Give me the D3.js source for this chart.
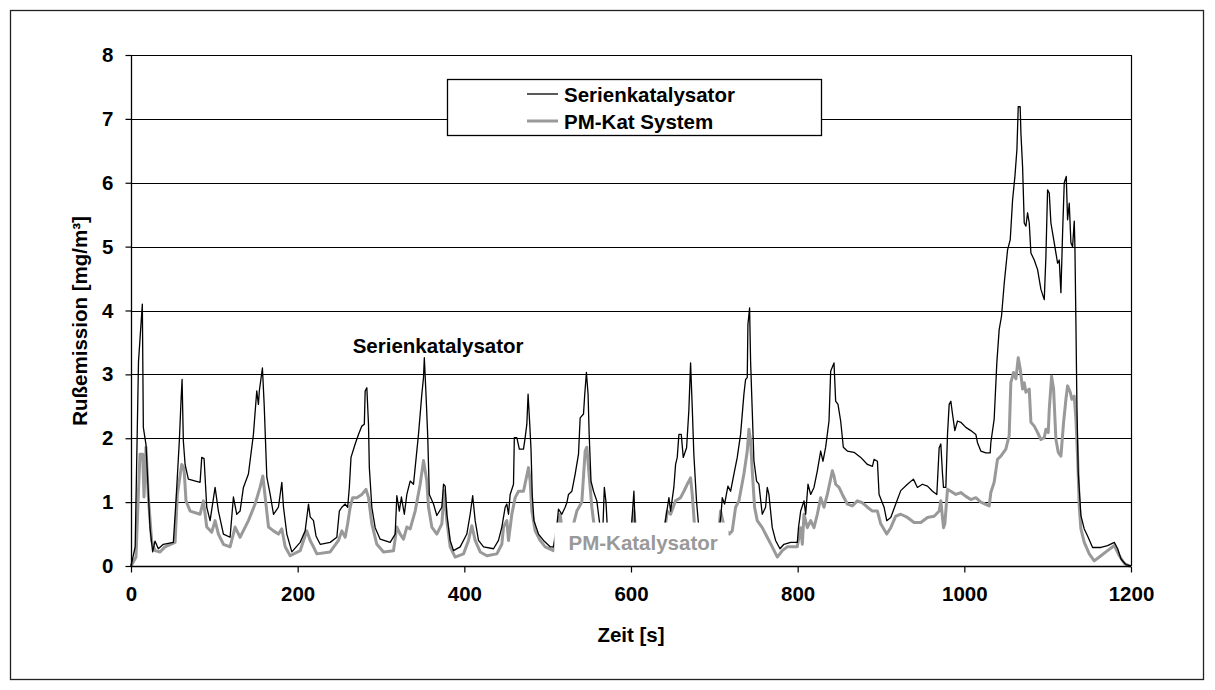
<!DOCTYPE html>
<html><head><meta charset="utf-8">
<script src="https://cdn.jsdelivr.net/npm/d3@7"></script>
<style>
html,body{margin:0;padding:0;background:#fff;}
text{font-family:"Liberation Sans",Arial,sans-serif;font-weight:bold;}
</style></head>
<body><svg id="chart" width="1215" height="690"></svg>
<script>
// ---- data ----
const seriesNames = ["Serienkatalysator", "PM-Kat System"];
const xTicks = [0, 200, 400, 600, 800, 1000, 1200];
const yTicks = [0, 1, 2, 3, 4, 5, 6, 7, 8];
const xTitle = "Zeit [s]";
const yTitle = "Rußemission [mg/m³]";
const labelSerie = "Serienkatalysator";
const labelPM = "PM-Katalysator";

const serTime = [0,5,9,13.6,14.8,18,22.8,26,28.8,32.8,38.8,50.8,54,58,60,61.3,62.8,64.9,68.8,82.9,84.9,87.7,90.9,94.9,100.9,104.9,110.9,118.9,122.9,126.9,130.9,134.9,140.9,146.9,150.9,152.9,154,157.7,159.8,163,167,171,176.9,181,183,187,193,203,209,213,215,219,222,227,239,247,250,253,257,260,262,264,269,273,277,280,281,283,285,286,289,293,299,311,317,319,322,324.5,328,331,335,339,341,345,349,351,352,354,356,358,363,367,373,375,377,379,383,387,395,403,407,410,413,417,423,435,441,445,449,451,453,455,459,460,463,466,471,473,475,476.5,478.5,480,481.5,483.5,489,495,503,507,510,513,517,521,523,525,529,533,537,539,543,544.5,546.5,548.5,549.8,552,555,559,563,566,568,570,572,585,598,601,603.5,605,620,636,640,645.5,647.5,651.4,653.5,655.5,657.5,660.3,662.7,666.7,669.4,671.5,673.5,675.4,678.6,682,695,705,708,709.5,712.3,716.3,719.5,723.5,727.5,731.5,735.5,737.5,739.5,740.3,742.3,743.5,745.5,747.5,750.7,753.5,757.5,761.5,763.5,765.5,769.5,773.5,778.8,783.5,791.6,799.6,801,803.6,807.6,809.6,812.4,815.6,819.6,823.6,827.6,830.4,833.6,837.6,839.6,843.6,845.6,848.4,851.6,854.8,859.6,867.6,875.7,883.7,889.7,891.7,895.7,897.7,903.7,906.9,911.7,917.7,923.7,931.7,938.9,943.7,949.7,955.8,961.8,967,969.8,971.8,973.8,975,977.8,979.8,981.8,983.8,985.8,988.6,991.8,995.8,1001.8,1007.8,1013.8,1015.8,1019.8,1025.8,1031,1031.8,1035.8,1039,1041.8,1044.6,1047.9,1051.9,1055.1,1057.9,1060.7,1063.1,1064.7,1067,1067.9,1069.9,1071.9,1073.9,1075.9,1077.9,1079.9,1083.9,1087.9,1091.9,1095.9,1097.9,1099.9,1101.9,1103.9,1107.9,1111.9,1113.9,1115.9,1117.9,1119.9,1122.3,1123.9,1125.9,1127.9,1129.9,1131.9,1132.7,1133.9,1135.1,1136.7,1139.9,1143.9,1147.9,1153.9,1163.9,1171.9,1180,1184,1188,1194,1200];
const serValues = [0,0.3,3.2,4.1,2.17,1.9,0.6,0.22,0.39,0.27,0.34,0.37,1.02,1.96,2.58,2.92,1.96,1.59,1.36,1.31,1.7,1.68,0.92,0.71,1.23,0.86,0.5,0.45,1.08,0.81,0.86,1.23,1.44,2.06,2.74,2.53,2.74,3.1,2.53,1.39,1.12,0.81,0.92,1.31,0.92,0.5,0.22,0.37,0.55,0.97,0.77,0.71,0.47,0.34,0.37,0.45,0.86,0.92,0.97,0.92,1.23,1.7,1.91,2.06,2.19,2.22,2.74,2.79,2.22,1.54,0.92,0.6,0.42,0.37,0.5,1.1,0.86,1.08,0.81,1.12,1.33,1.28,1.54,2.06,2.69,2.95,3.26,2.69,2.06,1.12,0.97,0.79,0.92,1.28,1.25,0.81,0.4,0.24,0.3,0.5,0.81,1.1,0.71,0.4,0.3,0.27,0.4,0.61,0.92,0.97,0.81,1.12,1.28,2.01,2.01,1.83,1.83,2.01,2.22,2.69,2.22,1.83,1.12,0.71,0.5,0.4,0.3,0.3,0.5,0.89,0.81,0.92,0.99,1.12,1.17,1.44,1.75,2.32,2.38,2.69,3.03,2.69,2.06,1.33,1.17,1.02,0.6,0.5,1.23,1.0,0.5,0.3,0.4,0.7,1.17,0.6,0.3,0.4,0.6,1.07,0.86,1.23,1.59,1.7,2.06,2.06,1.7,1.85,2.43,3.18,2.48,1.75,1.02,0.5,0.3,0.5,0.8,1.07,0.97,1.25,1.17,1.44,1.7,2.06,2.69,2.92,2.95,3.78,4.04,3.21,2.43,1.65,1.33,1.28,0.81,0.92,1.23,1.12,0.6,0.4,0.27,0.34,0.37,0.37,0.6,0.86,1.02,0.81,1.28,1.12,1.23,1.49,1.8,1.64,1.86,2.27,3.05,3.18,2.58,2.53,2.27,1.86,1.8,1.78,1.7,1.59,1.56,1.67,1.64,1.12,0.92,0.71,0.76,0.97,1.18,1.28,1.36,1.23,1.28,1.25,1.17,1.12,1.85,1.91,1.44,1.23,1.23,2.06,2.53,2.58,2.38,2.12,2.27,2.25,2.17,2.12,2.06,1.93,1.8,1.77,1.77,1.93,2.3,3.18,3.7,3.91,4.43,4.95,5.11,5.73,6.1,6.52,7.19,7.19,6.78,6.25,5.37,5.32,5.53,5.37,4.9,4.79,4.64,4.33,4.17,4.85,5.89,5.84,5.37,5.06,4.74,4.79,4.28,5.21,6.0,6.1,5.42,5.68,5.06,5.0,5.4,5.0,3.81,2.5,1.46,0.79,0.58,0.47,0.29,0.29,0.32,0.37,0.27,0.11,0.02,0];

const pmTime = [0,6,8.8,10.8,14,15.6,18,20.8,24.8,28.8,34.8,40.8,52.9,55.6,60.9,63.6,66,70.9,82.9,86.9,90.9,96.9,100.9,104.9,110.9,118.9,124.9,130.9,140.9,148.9,154.9,158.2,161,165,171,176.9,181,185,191,203,211,215,219,223,239,249,253,257,260,263,266,271,277,282,285,289,295,303,315,319,323,327,331,335,341,347,351,355,357,361,367,373,376,379,383,389,399,405,409,413,419,427,439,445,447,451,453,457,461,465,471,477,479,481,485,491,497,507,510,515,518,528,535,541,545,547,549,553,557,580,600,603.5,606,625,640,643.5,647.5,653.5,659.5,663.5,667.5,671.5,673.5,677,695,705,707.5,712,718,721.5,725.5,729.5,735.5,739.5,741.5,743.5,745.5,748.3,751.5,757.5,763.5,769.5,775.6,781.5,787.5,799.5,803.6,805.6,807.6,811.6,815.6,819.6,823.6,827.6,831.6,835.6,841.6,843.6,845.6,849.6,853.6,859.6,865.6,871.6,877.7,883.7,889.7,895.7,899.7,906.9,911.7,917.7,923.7,931.7,939.7,947.7,955.8,963.8,969.8,971.8,975,976.6,979.8,983.8,989.8,995.8,1001.8,1007.8,1013.8,1019.8,1029.8,1031.8,1035.8,1039.8,1043.8,1049.8,1053.8,1055.8,1059.1,1061.9,1064.7,1067.1,1069.9,1071.9,1073.9,1077.9,1079.9,1083.9,1087.9,1091.9,1095.9,1097.9,1100.7,1101.9,1104.7,1107.1,1109.9,1112.7,1115.9,1119.1,1121.9,1123.9,1127.1,1129.1,1131.9,1133.9,1135.9,1137.9,1139.9,1143.9,1149.9,1155.9,1163.9,1171.9,1180,1186,1192,1198,1200];
const pmValues = [0,0.14,1.12,1.75,1.75,1.08,1.86,1.08,0.39,0.24,0.22,0.3,0.37,1.12,1.59,1.53,1.02,0.86,0.81,1.02,0.61,0.53,0.71,0.5,0.34,0.3,0.61,0.45,0.71,0.97,1.23,1.41,1.08,0.61,0.55,0.5,0.58,0.3,0.16,0.24,0.55,0.4,0.3,0.19,0.22,0.4,0.55,0.45,0.66,0.92,1.07,1.07,1.12,1.2,1.07,0.66,0.34,0.22,0.24,0.61,0.5,0.42,0.61,0.58,0.86,1.28,1.65,1.33,0.92,0.61,0.5,0.66,1.18,0.71,0.3,0.14,0.19,0.4,0.63,0.4,0.22,0.16,0.19,0.34,0.61,0.71,0.4,0.81,1.07,1.17,1.17,1.54,1.33,0.86,0.55,0.4,0.3,0.24,0.5,0.81,0.5,0.5,0.86,1.0,1.8,1.86,1.54,0.92,0.5,0.25,0.5,0.86,0.5,0.25,0.5,0.86,0.81,1.02,1.07,1.17,1.28,1.38,1.12,0.5,0.25,0.5,0.86,0.6,0.5,0.55,0.92,1.02,1.44,1.8,2.14,1.96,1.49,0.92,0.71,0.6,0.45,0.3,0.14,0.24,0.3,0.3,0.6,0.34,0.81,0.6,0.71,0.6,0.81,1.07,0.92,1.12,1.49,1.41,1.28,1.23,1.12,0.97,0.94,1.02,0.99,0.92,0.86,0.86,0.66,0.5,0.6,0.78,0.81,0.76,0.68,0.68,0.76,0.78,0.86,1.02,0.6,0.66,1.2,1.17,1.12,1.15,1.09,1.04,1.07,1.0,0.94,1.15,1.31,1.67,1.72,1.83,2.04,2.87,3.03,2.93,3.26,3.08,2.77,2.87,2.72,2.77,2.25,2.19,2.09,1.98,2.01,2.14,2.09,2.45,2.97,2.77,1.98,1.78,1.72,2.25,2.61,2.82,2.72,2.61,2.66,2.3,1.72,0.94,0.58,0.37,0.19,0.08,0.16,0.24,0.32,0.16,0.04,0,0];

// ---- layout ----
const W = 1215, H = 690;
const plot = {left: 131, right: 1131, top: 55, bottom: 566};
const FONT = 20.5;

const svg = d3.select("#chart");
const x = d3.scaleLinear().domain([0, 1200]).range([plot.left, plot.right]);
const y = d3.scaleLinear().domain([0, 8]).range([plot.bottom, plot.top]);

// outer frame
svg.append("rect").attr("x", 10.5).attr("y", 10.5).attr("width", 1193).attr("height", 669)
  .attr("fill", "#fff").attr("stroke", "#222").attr("stroke-width", 1.3);

// gridlines
svg.append("g").selectAll("line").data(yTicks.filter(d => d > 0)).join("line")
  .attr("x1", plot.left).attr("x2", plot.right)
  .attr("y1", d => Math.round(y(d)) + 0.5).attr("y2", d => Math.round(y(d)) + 0.5)
  .attr("stroke", "#000").attr("stroke-width", 1.2);

// plot border right
svg.append("line").attr("x1", plot.right + 0.5).attr("x2", plot.right + 0.5)
  .attr("y1", plot.top).attr("y2", plot.bottom).attr("stroke", "#000").attr("stroke-width", 1.2);

// series
const serData = serTime.map((t, i) => [t, serValues[i]]);
const pmData = pmTime.map((t, i) => [t, pmValues[i]]);
const line = d3.line().x(d => x(d[0])).y(d => y(d[1]));

svg.append("path").datum(pmData).attr("d", line).attr("fill", "none")
  .attr("stroke", "#999999").attr("stroke-width", 3).attr("stroke-linejoin", "round");
svg.append("path").datum(serData).attr("d", line).attr("fill", "none")
  .attr("stroke", "#000").attr("stroke-width", 1.3).attr("stroke-linejoin", "round");

// label "Serienkatalysator" with white background
svg.append("rect").attr("x", x(264)).attr("y", 337).attr("width", x(484) - x(264)).attr("height", 20)
  .attr("fill", "#fff");
svg.append("text").attr("x", x(266)).attr("y", 353).attr("font-size", FONT).attr("fill", "#000")
  .text(labelSerie);

// label "PM-Katalysator" with white background
svg.append("rect").attr("x", x(508)).attr("y", y(0.68)).attr("width", x(717) - x(508))
  .attr("height", y(0.02) - y(0.68)).attr("fill", "#fff");
svg.append("text").attr("x", x(525)).attr("y", 550).attr("font-size", FONT).attr("fill", "#999999")
  .text(labelPM);

// axes
const yAxis = d3.axisLeft(y).tickValues(yTicks).tickSize(6).tickPadding(12).tickFormat(d3.format("d"));
const gy = svg.append("g").attr("transform", `translate(${plot.left + 0.5},0)`).call(yAxis);
const xAxis = d3.axisBottom(x).tickValues(xTicks).tickSize(6).tickPadding(14).tickFormat(d3.format("d"));
const gx = svg.append("g").attr("transform", `translate(0,${plot.bottom + 0.5})`).call(xAxis);
[gx, gy].forEach(g => {
  g.select(".domain").attr("stroke", "#000").attr("stroke-width", 1.3);
  g.selectAll(".tick line").attr("stroke", "#000").attr("stroke-width", 1.2);
  g.selectAll(".tick text").attr("font-size", FONT).attr("fill", "#000")
    .attr("font-family", "'Liberation Sans', Arial, sans-serif").attr("font-weight", "bold");
});
gx.select(".domain").attr("d", `M${plot.left},0H${plot.right}`);
gy.select(".domain").attr("d", `M0,${plot.bottom}V${plot.top}`);

// axis titles
svg.append("text").attr("x", (plot.left + plot.right) / 2).attr("y", 642).attr("text-anchor", "middle")
  .attr("font-size", FONT).text(xTitle);
svg.append("text").attr("transform", `translate(87,321) rotate(-90)`).attr("text-anchor", "middle")
  .attr("font-size", FONT).text(yTitle);

// legend
const lg = svg.append("g");
lg.append("rect").attr("x", 447.5).attr("y", 79.5).attr("width", 374).attr("height", 56)
  .attr("fill", "#fff").attr("stroke", "#000").attr("stroke-width", 1.3);
const legendItems = [
  {name: seriesNames[0], color: "#000", width: 1.3, ly: 94, ty: 101.5},
  {name: seriesNames[1], color: "#999999", width: 3, ly: 121, ty: 129}
];
legendItems.forEach(it => {
  lg.append("line").attr("x1", 527).attr("x2", 558).attr("y1", it.ly).attr("y2", it.ly)
    .attr("stroke", it.color).attr("stroke-width", it.width);
  lg.append("text").attr("x", 564).attr("y", it.ty).attr("font-size", FONT).attr("fill", "#000").text(it.name);
});
</script>
</body></html>
